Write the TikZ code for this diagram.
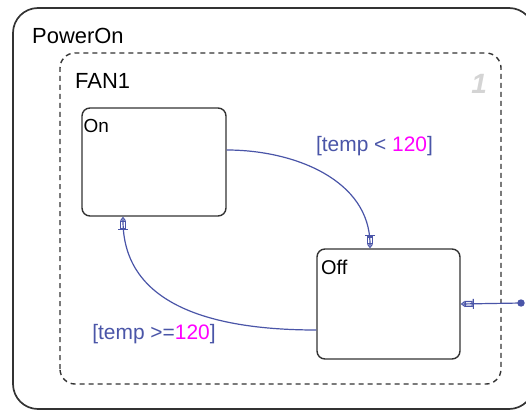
\documentclass[tikz,border=0pt]{standalone}
\usepackage{fontspec}
\setmainfont{Liberation Sans}
\usetikzlibrary{arrows.meta,calc}
\definecolor{trans}{HTML}{4A55A8}
\definecolor{guard}{HTML}{FF00FF}
\definecolor{frame}{HTML}{333333}

\begin{document}
\begin{tikzpicture}[x=1bp,y=1bp,
  state/.style={draw=frame,line width=1.4bp,rounded corners=8bp,inner sep=0pt},
  lbl/.style={font=\fontsize{22}{24}\selectfont,inner sep=0pt,anchor=base west},
  tr/.style={draw=trans,line width=1.2bp,-{Bar[width=10bp,sep=0pt]Square[open,length=8bp,width=6bp,sep=0pt]Triangle[open,length=4bp,width=6bp]}}]
  \useasboundingbox (0,0) rectangle (526,412);
  \fill[white] (0,0) rectangle (526,412);
  % superstate and its parallel substate
  \draw[frame,line width=1.7bp,rounded corners=25bp] (13,3) rectangle (534,404);
  \draw[frame,line width=1.4bp,dash pattern=on 5bp off 4bp,rounded corners=15bp] (60,28) rectangle (501,359);
  \node[lbl] (poweron) at (32,369) {PowerOn};
  \node[lbl] (fan) at (75,324) {FAN1};
  \node[font=\fontsize{28}{28}\selectfont\bfseries\itshape,text=black!17] (order) at (479,328) {1};
  % states
  \node[state,minimum width=144bp,minimum height=108bp] (on) at (154,250) {};
  \node[state,minimum width=143bp,minimum height=110bp] (off) at (388.5,108) {};
  \node[lbl,font=\fontsize{19}{20}\selectfont] (onname) at (83.5,280) {On};
  \node[lbl,font=\fontsize{20}{20}\selectfont] (offname) at (321,138) {Off};
  % transitions
  \draw[tr] ([yshift=12bp]on.east) to[out=0,in=90] ([xshift=-18.5bp]off.north);
  \draw[tr] ([yshift=-26bp]off.west) to[out=180,in=270,out looseness=1.4,in looseness=0.9] ([xshift=-31bp]on.south);
  \coordinate (dflt) at (521,109);
  \draw[tr] (dflt) -- (off.east);
  \fill[trans] (dflt) circle (3.7bp);
  \node[lbl,anchor=center,font=\fontsize{21}{22}\selectfont,text=trans] (guardlow) at (374.5,266) {[temp < \textcolor{guard}{120}]};
  \node[lbl,anchor=center,font=\fontsize{21}{22}\selectfont,text=trans] (guardhigh) at (154,78) {[temp >=\textcolor{guard}{120}]};
\end{tikzpicture}
\end{document}
